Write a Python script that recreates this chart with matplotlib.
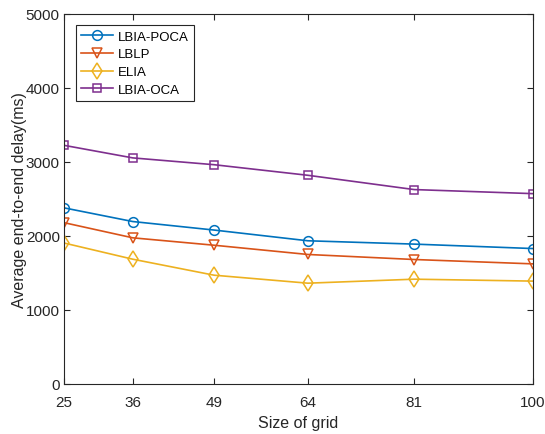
import matplotlib.pyplot as plt

plt.rcParams['font.family'] = ['Liberation Sans', 'DejaVu Sans']

grid_size = [25, 36, 49, 64, 81, 100]
lbia_poca = [2380, 2195, 2080, 1935, 1890, 1830]
lblp = [2180, 1975, 1875, 1750, 1682, 1623]
elia = [1905, 1686, 1470, 1362, 1416, 1390]
lbia_oca = [3225, 3055, 2963, 2820, 2627, 2572]

fig = plt.figure(figsize=(5.45, 4.35), dpi=100)
ax = fig.add_axes([0.1174, 0.115, 0.8606, 0.8506])

ax.plot(grid_size, lbia_poca, color=(0, 0.447, 0.741), marker='o', mfc='none',
        ms=7, lw=1.2, mew=1.1, label='LBIA-POCA')
ax.plot(grid_size, lblp, color=(0.850, 0.325, 0.098), marker='v', mfc='none',
        ms=7.5, lw=1.2, mew=1.1, label='LBLP')
ax.plot(grid_size, elia, color=(0.929, 0.694, 0.125), marker='d', mfc='none',
        ms=8, lw=1.2, mew=1.1, label='ELIA')
ax.plot(grid_size, lbia_oca, color=(0.494, 0.184, 0.556), marker='s', mfc='none',
        ms=6, lw=1.2, mew=1.1, label='LBIA-OCA')

ax.set_xlim(25, 100)
ax.set_ylim(0, 5000)
ax.set_xticks(grid_size)
ax.set_yticks(range(0, 5001, 1000))
ax.tick_params(direction='in', top=True, right=True, labelsize=11,
               length=4, width=0.8, colors='#262626', pad=3)
ax.tick_params(axis='x', pad=8)
for s in ax.spines.values():
    s.set_color('#262626')
    s.set_linewidth(0.8)

ax.set_xlabel('Size of grid', fontsize=11.5, color='#262626', labelpad=4)
ax.set_ylabel('Average end-to-end delay(ms)', fontsize=11.5, color='#262626', labelpad=-1)

leg = ax.legend(loc='upper left', bbox_to_anchor=(0.0256, 0.970), fontsize=9.5,
                fancybox=False, edgecolor='#262626', framealpha=1,
                handlelength=2.4, handletextpad=0.35, borderpad=0.4,
                labelspacing=0.42, borderaxespad=0)
leg.get_frame().set_linewidth(0.8)

fig.savefig('out.png', dpi=100)
